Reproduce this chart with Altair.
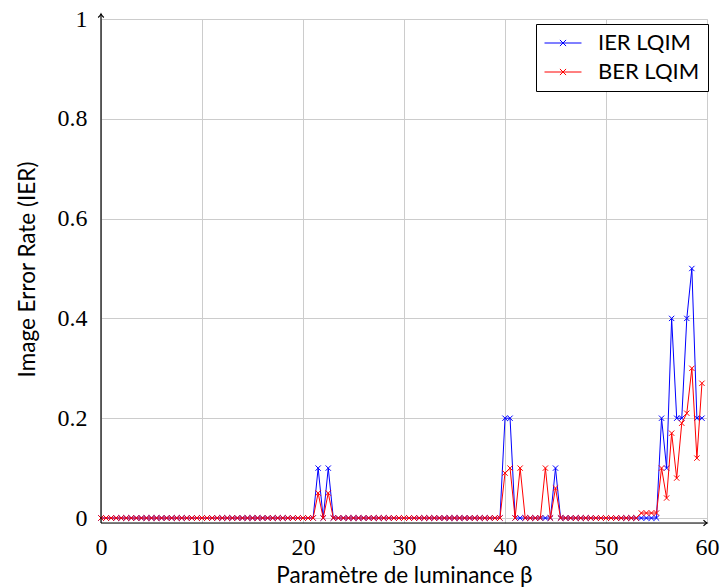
import altair as alt
import pandas as pd

# x values: luminance parameter beta (step 0.5)
beta = [
    0.0, 0.5, 1.0, 1.5, 2.0, 2.5, 3.0, 3.5, 4.0, 4.5, 5.0, 5.5, 6.0, 6.5, 7.0, 7.5, 8.0, 8.5, 9.0, 9.5,
    10.0, 10.5, 11.0, 11.5, 12.0, 12.5, 13.0, 13.5, 14.0, 14.5, 15.0, 15.5, 16.0, 16.5, 17.0, 17.5, 18.0, 18.5, 19.0, 19.5,
    20.0, 20.5, 21.0, 21.5, 22.0, 22.5, 23.0, 23.5, 24.0, 24.5, 25.0, 25.5, 26.0, 26.5, 27.0, 27.5, 28.0, 28.5, 29.0, 29.5,
    30.0, 30.5, 31.0, 31.5, 32.0, 32.5, 33.0, 33.5, 34.0, 34.5, 35.0, 35.5, 36.0, 36.5, 37.0, 37.5, 38.0, 38.5, 39.0, 39.5,
    40.0, 40.5, 41.0, 41.5, 42.0, 42.5, 43.0, 43.5, 44.0, 44.5, 45.0, 45.5, 46.0, 46.5, 47.0, 47.5, 48.0, 48.5, 49.0, 49.5,
    50.0, 50.5, 51.0, 51.5, 52.0, 52.5, 53.0, 53.5, 54.0, 54.5, 55.0, 55.5, 56.0, 56.5, 57.0, 57.5, 58.0, 58.5, 59.0, 59.5,
]

ier = [
    0, 0, 0, 0, 0, 0, 0, 0, 0, 0, 0, 0, 0, 0, 0, 0, 0, 0, 0, 0,
    0, 0, 0, 0, 0, 0, 0, 0, 0, 0, 0, 0, 0, 0, 0, 0, 0, 0, 0, 0,
    0, 0, 0, 0.1, 0, 0.1, 0, 0, 0, 0, 0, 0, 0, 0, 0, 0, 0, 0, 0, 0,
    0, 0, 0, 0, 0, 0, 0, 0, 0, 0, 0, 0, 0, 0, 0, 0, 0, 0, 0, 0,
    0.2, 0.2, 0, 0, 0, 0, 0, 0, 0, 0, 0.1, 0, 0, 0, 0, 0, 0, 0, 0, 0,
    0, 0, 0, 0, 0, 0, 0, 0, 0, 0, 0, 0.2, 0.1, 0.4, 0.2, 0.2, 0.4, 0.5, 0.2, 0.2,
]

ber = [
    0, 0, 0, 0, 0, 0, 0, 0, 0, 0, 0, 0, 0, 0, 0, 0, 0, 0, 0, 0,
    0, 0, 0, 0, 0, 0, 0, 0, 0, 0, 0, 0, 0, 0, 0, 0, 0, 0, 0, 0,
    0, 0, 0, 0.05, 0, 0.05, 0, 0, 0, 0, 0, 0, 0, 0, 0, 0, 0, 0, 0, 0,
    0, 0, 0, 0, 0, 0, 0, 0, 0, 0, 0, 0, 0, 0, 0, 0, 0, 0, 0, 0,
    0.09, 0.1, 0, 0.1, 0, 0, 0, 0, 0.1, 0, 0.06, 0, 0, 0, 0, 0, 0, 0, 0, 0,
    0, 0, 0, 0, 0, 0, 0, 0.01, 0.01, 0.01, 0.01, 0.1, 0.04, 0.17, 0.08, 0.19, 0.21, 0.30, 0.12, 0.27,
]

series_names = ["IER LQIM", "BER LQIM"]
series_colors = ["#0000ff", "#ff0000"]
x_ticks = [0, 10, 20, 30, 40, 50, 60]
y_ticks = [0, 0.2, 0.4, 0.6, 0.8, 1]

df = pd.DataFrame({"beta": beta, "IER LQIM": ier, "BER LQIM": ber})
long = df.melt("beta", var_name="serie", value_name="val")

SERIF = "Liberation Serif"
SANS = "Lato"

xs = alt.Scale(domain=[0, 60], nice=False, zero=False)
ys = alt.Scale(domain=[-0.01, 1], nice=False, zero=False)

x_axis = alt.Axis(
    values=x_ticks, grid=True, gridColor="#cccccc", gridWidth=1, domain=False, ticks=False,
    labelFont=SERIF, labelFontSize=24, labelColor="black", labelPadding=12, labelFlush=False,
    labelBaseline="top",
    title="Paramètre de luminance β", titleFont=SANS, titleFontSize=22.5, titleFontWeight="normal",
    titleColor="black", titleBaseline="middle", titleY=52,
)
y_axis = alt.Axis(
    values=y_ticks, format="~g", grid=True, gridColor="#cccccc", gridWidth=1, domain=False, ticks=False,
    labelFont=SERIF, labelFontSize=24, labelColor="black", labelPadding=14, labelFlush=False,
    title="Image Error Rate (IER)", titleFont=SANS, titleFontSize=22.5, titleFontWeight="normal",
    titleColor="black", titleBaseline="middle", titleX=-74, titleY=250, titleAngle=270,
)

legend_symbol = "M-3,0L3,0M-0.5,-0.5L0.5,0.5M-0.5,0.5L0.5,-0.5"
legend = alt.Legend(
    title=None, orient="none", legendX=435, legendY=5,
    symbolType=legend_symbol, symbolSize=152, symbolStrokeWidth=1, symbolOffset=8,
    labelFont=SANS, labelFontSize=22, labelColor="black", labelOffset=24,
    rowPadding=7, padding=8, strokeColor="black", fillColor="white", cornerRadius=0,
)
color = alt.Color("serie:N", scale=alt.Scale(domain=series_names, range=series_colors), legend=legend)

cross = "M-1,-1L1,1M-1,1L1,-1"

layers = []
for name in series_names:
    base = alt.Chart(long).transform_filter(alt.datum.serie == name)
    enc = dict(
        x=alt.X("beta:Q", scale=xs, axis=x_axis),
        y=alt.Y("val:Q", scale=ys, axis=y_axis),
        color=color,
    )
    layers.append(base.mark_line(strokeWidth=1).encode(**enc))
    layers.append(base.mark_point(shape=cross, size=28, filled=False, strokeWidth=1, opacity=1).encode(**enc))

# axis lines with arrows (pgfplots "axis lines=left")
xline_df = pd.DataFrame({"x": [0], "x2": [60], "y": [-0.01]})
yline_df = pd.DataFrame({"x": [0], "y": [-0.01], "y2": [1.01]})
x_line = alt.Chart(xline_df).mark_rule(color="black", strokeWidth=1.2).encode(
    x=alt.X("x:Q", scale=xs), x2="x2:Q", y=alt.Y("y:Q", scale=ys))
y_line = alt.Chart(yline_df).mark_rule(color="black", strokeWidth=1.2).encode(
    x=alt.X("x:Q", scale=xs), y=alt.Y("y:Q", scale=ys), y2="y2:Q")

arrow = "M-1,-0.8Q-0.35,-0.15,0,0Q-0.35,0.15,-1,0.8"
arr_df = pd.DataFrame({"x": [60, 0], "y": [-0.01, 1.01], "ang": [0, 270]})
arrows = alt.Chart(arr_df).mark_point(shape=arrow, size=49, filled=False, color="black",
                                       strokeWidth=1.2, opacity=1).encode(
    x=alt.X("x:Q", scale=xs), y=alt.Y("y:Q", scale=ys), angle=alt.Angle("ang:Q", scale=None))

chart = alt.layer(*layers, x_line, y_line, arrows).properties(
    width=606, height=504,
    autosize=alt.AutoSizeParams(type="none"),
    padding={"left": 101, "top": 19, "right": 14, "bottom": 64},
).configure_view(stroke=None).configure(background="white")

chart.save("out.html", embed_options={"renderer": "svg", "actions": False})
